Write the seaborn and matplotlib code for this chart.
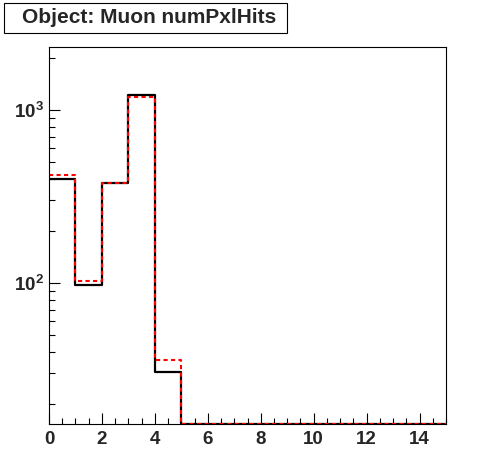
import numpy as np
import pandas as pd
import matplotlib
matplotlib.use("Agg")
import matplotlib.pyplot as plt
import seaborn as sns
from matplotlib.ticker import MultipleLocator, LogLocator, NullFormatter, LogFormatterSciNotation
from matplotlib.patches import Rectangle

# Data
bin_edges = list(range(0, 16))
black_counts = [401, 97, 380, 1222, 30.6, 0, 0, 0, 0, 0, 0, 0, 0, 0, 0]
red_counts = [423, 103, 380, 1195, 35.9, 0, 0, 0, 0, 0, 0, 0, 0, 0, 0]
title_text = "Object: Muon numPxlHits"

Y_MIN, Y_MAX = 15.3, 2312

sns.set_style("ticks")
plt.rcParams['font.family'] = ['Liberation Sans', 'DejaVu Sans']
plt.rcParams['font.weight'] = 'bold'
plt.rcParams['mathtext.fontset'] = 'custom'
plt.rcParams['mathtext.rm'] = 'Liberation Sans:bold'
plt.rcParams['mathtext.it'] = 'Liberation Sans:bold'
plt.rcParams['mathtext.bf'] = 'Liberation Sans:bold'

W, H = 496, 472
fig = plt.figure(figsize=(W / 100, H / 100), dpi=100)
ax = fig.add_axes([49 / W, (H - 424) / H, (446 - 49) / W, (424 - 47) / H])

centers = [(bin_edges[i] + bin_edges[i + 1]) / 2 for i in range(len(bin_edges) - 1)]
df = pd.DataFrame({"x": centers, "black": black_counts, "red": red_counts})
# empty bins are drawn on the lower frame edge, as ROOT does on a log axis
df["black_shown"] = df["black"].clip(lower=Y_MIN)
df["red_shown"] = df["red"].clip(lower=Y_MIN)

sns.histplot(data=df, x="x", weights="black_shown", bins=bin_edges, element="step",
             fill=False, color="black", linewidth=1.6, ax=ax)
sns.histplot(data=df, x="x", weights="red_shown", bins=bin_edges, element="step",
             fill=False, color="red", linewidth=1.5, linestyle=(0, (2, 1.6)), ax=ax)

ax.set_yscale("log", nonpositive="clip")
ax.set_xlim(0, 15)
ax.set_ylim(Y_MIN, Y_MAX)
ax.set_xlabel("")
ax.set_ylabel("")

ax.xaxis.set_major_locator(MultipleLocator(2))
ax.xaxis.set_minor_locator(MultipleLocator(0.5))
ax.yaxis.set_major_locator(LogLocator(base=10))
ax.yaxis.set_minor_locator(LogLocator(base=10, subs=np.arange(2, 10)))
ax.yaxis.set_major_formatter(LogFormatterSciNotation())
ax.yaxis.set_minor_formatter(NullFormatter())

ax.tick_params(axis="both", which="both", direction="in", color="black", width=0.8)
ax.tick_params(axis="x", which="major", length=8, labelsize=13.5, pad=5)
ax.tick_params(axis="x", which="minor", length=4)
ax.tick_params(axis="y", which="major", length=8, labelsize=13.5, pad=4)
ax.tick_params(axis="y", which="minor", length=4.5)
for lab in ax.get_xticklabels() + ax.get_yticklabels():
    lab.set_fontweight("bold")

for s in ax.spines.values():
    s.set_visible(True)
    s.set_color("black")
    s.set_linewidth(0.8)

# Title box
fig.patches.append(Rectangle((4 / W, (H - 32.5) / H), (287 - 4) / W, (32.5 - 3) / H,
                             transform=fig.transFigure, facecolor="white",
                             edgecolor="black", linewidth=0.8))
fig.text(149 / W, (H - 17.5) / H, title_text, ha="center", va="center",
         fontsize=15, fontweight="bold", family=['Liberation Sans', 'DejaVu Sans'])

fig.savefig("out.png", dpi=100)
